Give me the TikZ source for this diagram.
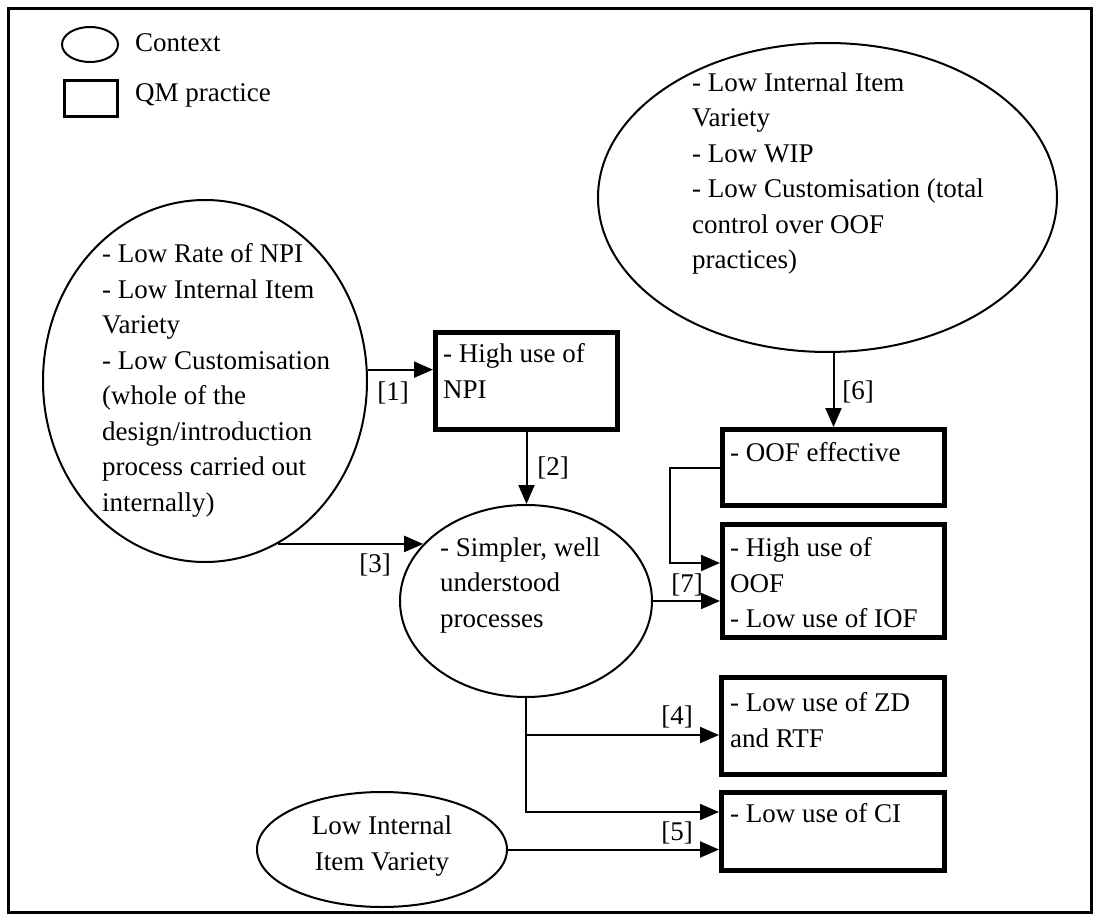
\documentclass[tikz,border=0pt]{standalone}
\usepackage{fontspec}
\setmainfont{Liberation Serif}
\usetikzlibrary{arrows.meta,shapes.geometric}
\begin{document}
\begin{tikzpicture}[x=1pt,y=-1pt,
  every node/.style={font=\fontsize{27}{35.5}\selectfont},
  ctx/.style={draw, ellipse, line width=2pt, inner sep=0pt},
  qm/.style={draw, rectangle, line width=5pt, inner sep=0pt},
  txt/.style={anchor=north west, align=left, inner sep=0pt},
  lbl/.style={inner sep=0pt},
  link/.style={line width=2pt},
  arr/.style={line width=2pt, -{Triangle[length=19pt,width=16pt]}}]
\useasboundingbox (0,0) rectangle (1096,920);
% outer frame
\draw[line width=3pt] (8,9) rectangle (1091,912);

% legend
\node[ctx, minimum width=56pt, minimum height=35pt] (lgc) at (90,44.5) {};
\node[lbl, anchor=west] (lgct) at (135,43) {Context};
\node[draw, line width=3pt, minimum width=53pt, minimum height=36pt, inner sep=0pt] (lgq) at (90.5,99) {};
\node[lbl, anchor=west] (lgqt) at (135,95) {QM practice};

% context ellipses
\node[ctx, minimum width=324pt, minimum height=362pt] (L) at (205,381) {};
\node[txt] (Lt) at (102,243.5) {- Low Rate of NPI\\- Low Internal Item\\Variety\\- Low Customisation\\(whole of the\\design/introduction\\process carried out\\internally)};

\node[ctx, minimum width=459pt, minimum height=309pt] (T) at (827.5,197.5) {};
\node[txt] (Tt) at (692,72.5) {- Low Internal Item\\Variety\\- Low WIP\\- Low Customisation (total\\control over OOF\\practices)};

\node[ctx, minimum width=252pt, minimum height=192pt] (M) at (526,601) {};
\node[txt] (Mt) at (440,537.5) {- Simpler, well\\understood\\processes};

\node[ctx, minimum width=250pt, minimum height=115pt] (V) at (382,849.5) {};
\node[lbl, align=center] (Vt) at (382,846) {Low Internal\\Item Variety};

% QM practice boxes
\node[qm, minimum width=182pt, minimum height=97pt] (NPI) at (526.5,381) {};
\node[txt] (NPIt) at (443,343.5) {- High use of\\NPI};

\node[qm, minimum width=222pt, minimum height=76pt] (E) at (833.5,467.5) {};
\node[txt] (Et) at (730,442.5) {- OOF effective};

\node[qm, minimum width=222pt, minimum height=113pt] (H) at (833.5,581) {};
\node[txt] (Ht) at (730,537.5) {- High use of\\OOF\\- Low use of IOF};

\node[qm, minimum width=223pt, minimum height=97pt] (Z) at (833,726) {};
\node[txt] (Zt) at (730,692.5) {- Low use of ZD\\and RTF};

\node[qm, minimum width=223pt, minimum height=78pt] (C) at (833,831.5) {};
\node[txt] (Ct) at (730,803.5) {- Low use of CI};

% connectors
\draw[arr] (L.4) -- (L.4 -| NPI.west);
\draw[arr] (NPI.south) -- (NPI.south |- M.north);
\draw[arr] (L.-66) -- (L.-66 -| M.151);
\draw[arr] (T.south -| E.north) -- (E.north);
\draw[arr] (M.east) -- (M.east -| H.west);
\draw[arr] (E.west) -- ++(-50,0) |- ([yshift=18pt]H.west);
\coordinate (z4) at ([yshift=-9pt]Z.west);
\draw[arr] (M.south) |- ([yshift=19.5pt]C.west);
\draw[arr] (z4 -| M.south) -- (z4);
\draw[arr] (V.east) -- (V.east -| C.west);

% connector labels
\node[lbl] (n1) at (393,393) {[1]};
\node[lbl] (n2) at (553,468) {[2]};
\node[lbl] (n3) at (375,565) {[3]};
\node[lbl] (n4) at (677,717) {[4]};
\node[lbl] (n5) at (677,833) {[5]};
\node[lbl] (n6) at (858,392) {[6]};
\node[lbl] (n7) at (687,585) {[7]};
\end{tikzpicture}
\end{document}
